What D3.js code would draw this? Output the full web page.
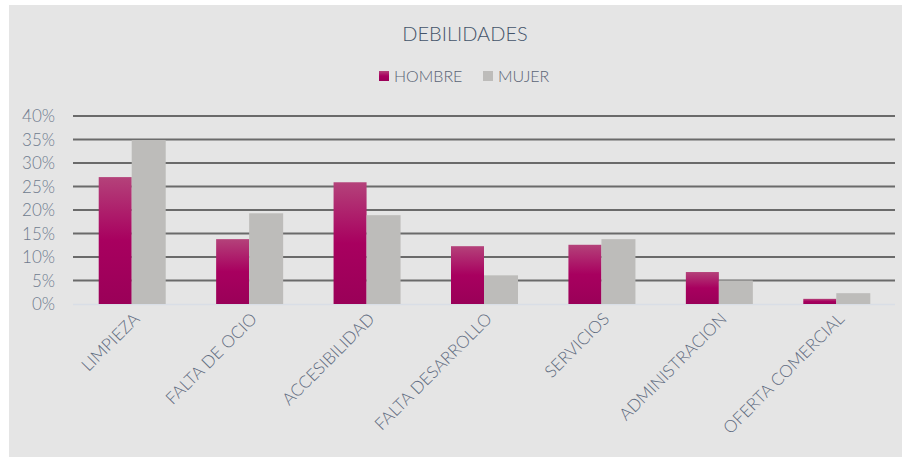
<!DOCTYPE html>
<html><head><meta charset="utf-8">
<script src="https://cdn.jsdelivr.net/npm/d3@7"></script>
<style>body{margin:0;background:#fff}svg{display:block}</style>
</head><body>
<script>
const categories = ["LIMPIEZA","FALTA DE OCIO","ACCESIBILIDAD","FALTA DESARROLLO","SERVICIOS","ADMINISTRACION","OFERTA COMERCIAL"];
const seriesNames = ["HOMBRE","MUJER"];
const hombre = [0.27, 0.138, 0.259, 0.123, 0.126, 0.068, 0.011];
const mujer  = [0.349, 0.193, 0.189, 0.061, 0.138, 0.050, 0.023];
const yTicks = [0,0.05,0.10,0.15,0.20,0.25,0.30,0.35,0.40];

const W=902,H=457;
const svg=d3.select("body").append("svg").attr("width",W).attr("height",H);
const defs=svg.append("defs");
const g1=defs.append("linearGradient").attr("id","gH").attr("x1",0).attr("y1",0).attr("x2",0).attr("y2",1);
g1.append("stop").attr("offset","0%").attr("stop-color","#b4427a");
g1.append("stop").attr("offset","50%").attr("stop-color","#a8005f");
g1.append("stop").attr("offset","100%").attr("stop-color","#9a0058");

svg.append("rect").attr("x",9).attr("y",5).attr("width",W-9).attr("height",H-5).attr("fill","#e5e5e5");

const font="Lato, 'Open Sans', sans-serif";
svg.append("text").attr("x",465).attr("y",41).attr("text-anchor","middle")
  .attr("font-family",font).attr("font-weight",300).attr("font-size",20).attr("fill","#44546a").text("DEBILIDADES");

// legend
const legend=[{n:seriesNames[0],c:"url(#gH)",x:379},{n:seriesNames[1],c:"#bdbcba",x:483}];
legend.forEach(l=>{
  svg.append("rect").attr("x",l.x).attr("y",71).attr("width",10).attr("height",10).attr("fill",l.c);
  svg.append("text").attr("x",l.x+15).attr("y",82).attr("font-family",font).attr("font-weight",300).attr("font-size",16)
    .attr("fill","#5a6475").text(l.n);
});

const x=d3.scaleBand().domain(categories).range([73,895]);
const y=d3.scaleLinear().domain([0,0.40]).range([304,116]);

// gridlines
svg.append("g").selectAll("line").data(yTicks.filter(d=>d>0)).join("line")
  .attr("x1",73).attr("x2",895).attr("y1",d=>y(d)).attr("y2",d=>y(d))
  .attr("stroke","#6a6a6a").attr("stroke-width",2);
svg.append("line").attr("x1",73).attr("x2",895).attr("y1",y(0)+0.5).attr("y2",y(0)+0.5)
  .attr("stroke","#d9dee6").attr("stroke-width",1.5);

// y labels
const yAxis=d3.axisLeft(y).tickValues(yTicks).tickFormat(d3.format(".0%")).tickSize(0).tickPadding(0);
const ya=svg.append("g").attr("transform","translate(55,0)").call(yAxis);
ya.select(".domain").remove();
ya.selectAll("text").attr("font-family",font).attr("font-weight",300).attr("font-size",17).attr("fill","#6f7b8e").attr("dy","0.35em");

const bw=34;
const bars=svg.append("g");
categories.forEach((c,i)=>{
  const cx=x(c)+x.bandwidth()/2;
  bars.append("rect").attr("x",cx-bw+1).attr("y",y(hombre[i])).attr("width",bw-1)
    .attr("height",y(0)-y(hombre[i])).attr("fill","url(#gH)");
  bars.append("rect").attr("x",cx).attr("y",y(mujer[i])).attr("width",bw)
    .attr("height",y(0)-y(mujer[i])).attr("fill","#bdbcba");
});

// x labels
const xa=svg.append("g");
categories.forEach(c=>{
  const cx=x(c)+x.bandwidth()/2;
  xa.append("text").attr("transform",`translate(${cx+9},${320}) rotate(-45)`)
    .attr("text-anchor","end").attr("font-family",font).attr("font-weight",300).attr("font-size",17)
    .attr("fill","#5f6b80").text(c);
});
</script>
</body></html>
